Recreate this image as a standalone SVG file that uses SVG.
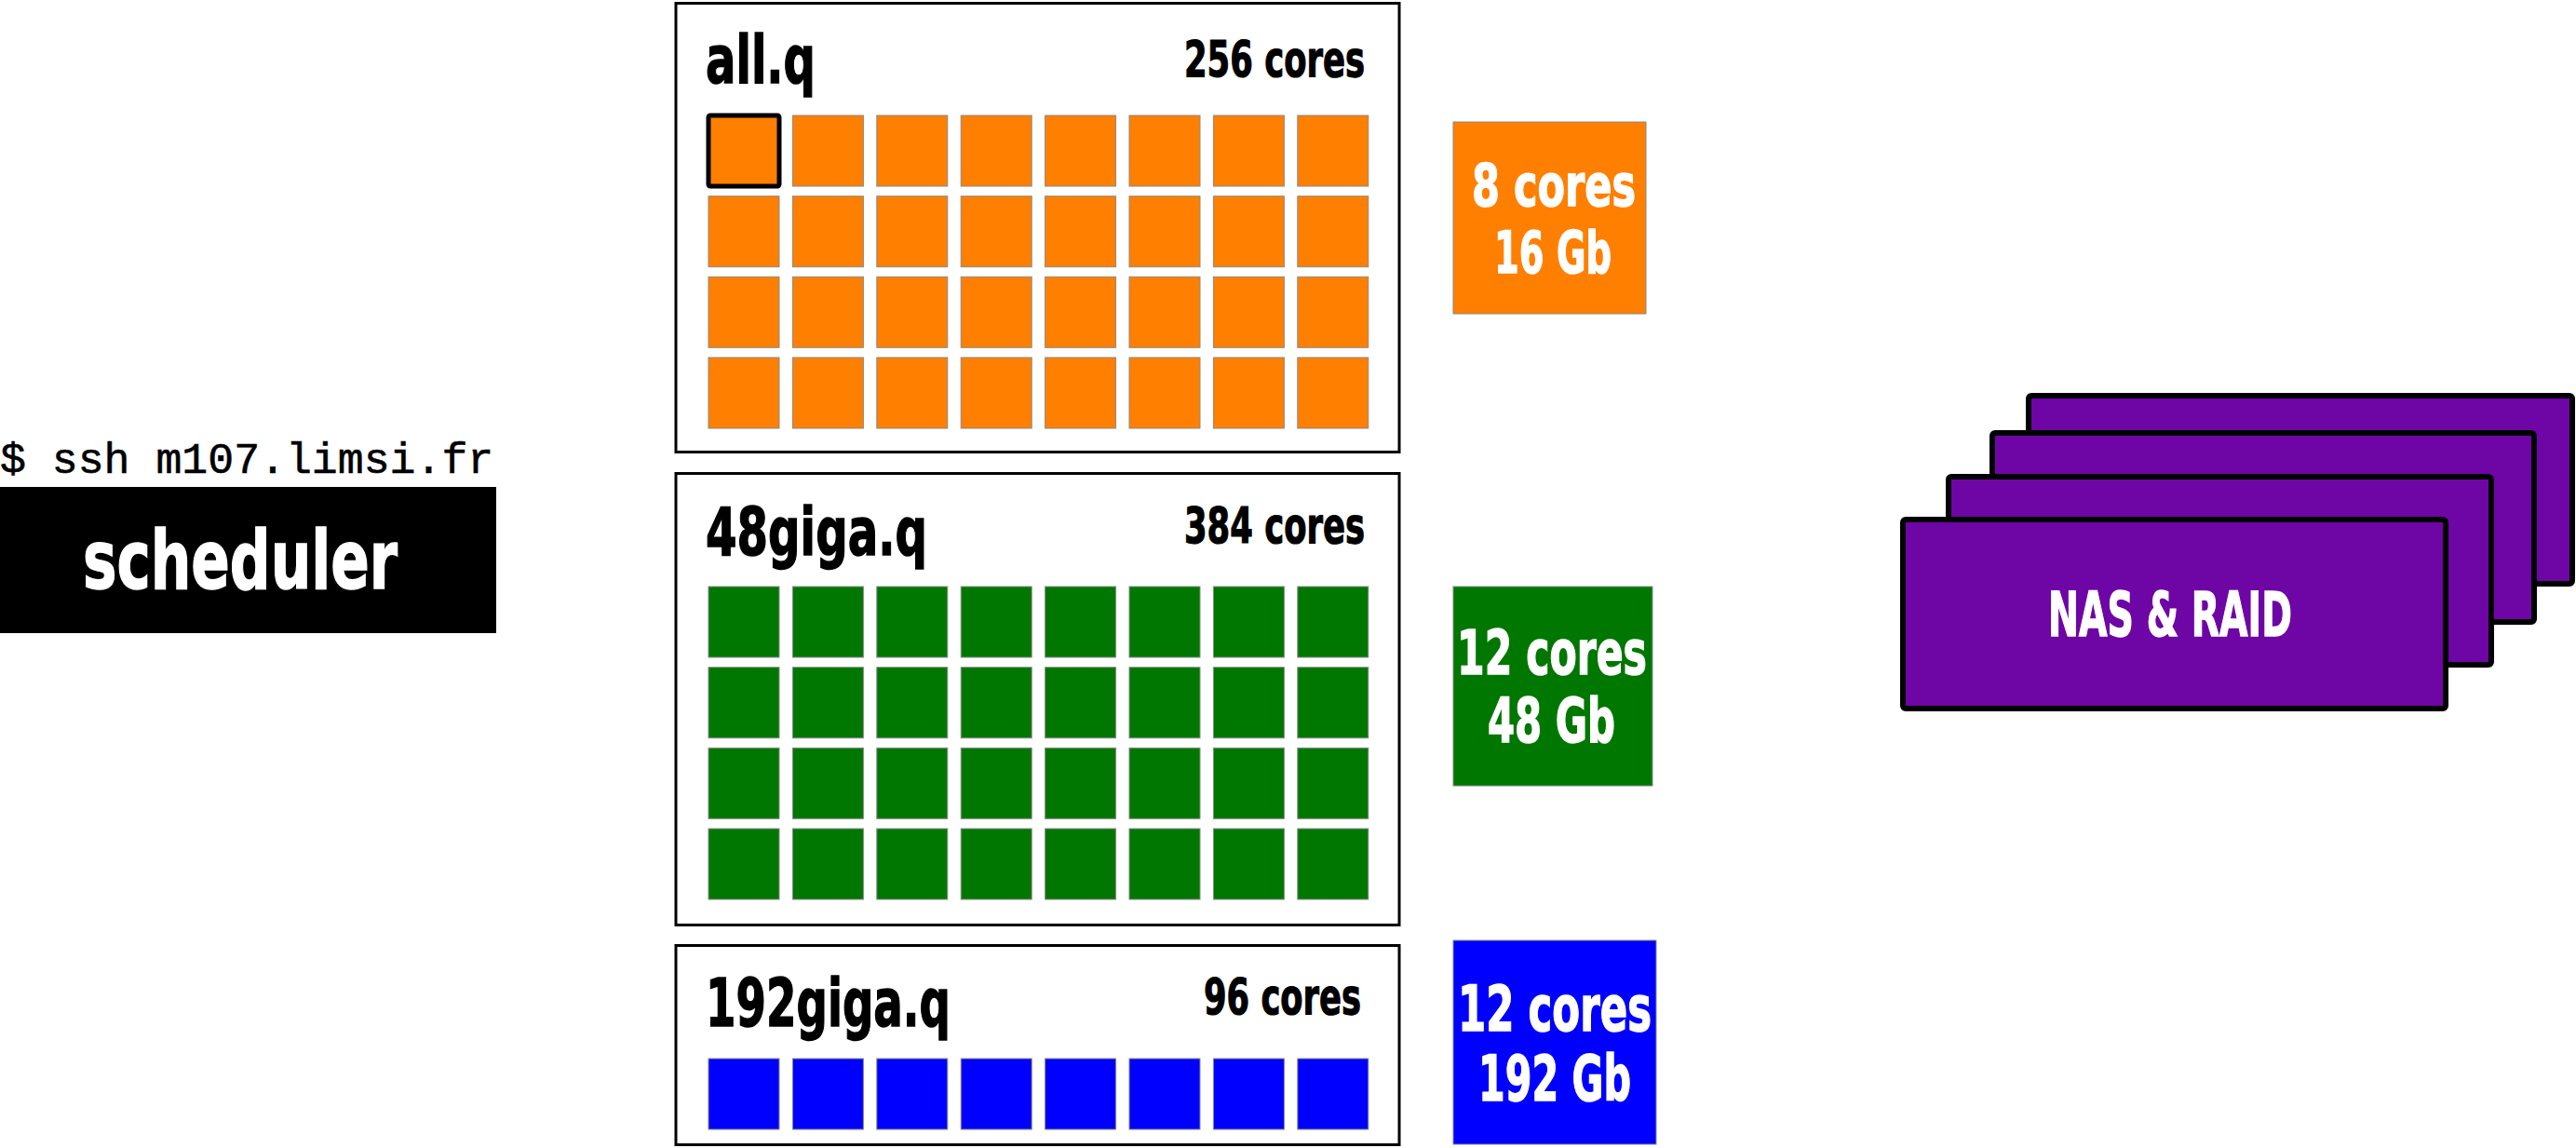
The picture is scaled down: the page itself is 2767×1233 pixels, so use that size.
<svg xmlns="http://www.w3.org/2000/svg" xmlns:xlink="http://www.w3.org/1999/xlink" width="2767" height="1233" viewBox="0 0 2767 1233">
<style>
.queue{fill:#ffffff;stroke:#000000;stroke-width:3}
.title{font-family:"DejaVu Sans","Liberation Sans",sans-serif;font-weight:bold;font-size:71px;fill:#000000;stroke:#000000;stroke-width:1.5}
.count{font-family:"DejaVu Sans","Liberation Sans",sans-serif;font-weight:bold;font-size:53px;fill:#000000;stroke:#000000;stroke-width:1.2}
.spec{font-family:"DejaVu Sans","Liberation Sans",sans-serif;font-weight:bold;fill:#ffffff;stroke:#ffffff;stroke-width:1.5}
.mono{font-family:"Liberation Mono","DejaVu Sans Mono",monospace;font-size:46.5px;fill:#000000;stroke:#000000;stroke-width:0.6}
.side{stroke:#888888;stroke-width:1}
.nas{fill:#6E05A5;stroke:#000000;stroke-width:6;stroke-linejoin:round}
</style>
<defs>
<g id="row8" stroke="#8a8a8a" stroke-width="1">
<rect x="761" y="0" width="76" height="76"/>
<rect x="851.4" y="0" width="76" height="76"/>
<rect x="941.8" y="0" width="76" height="76"/>
<rect x="1032.2" y="0" width="76" height="76"/>
<rect x="1122.6" y="0" width="76" height="76"/>
<rect x="1213" y="0" width="76" height="76"/>
<rect x="1303.4" y="0" width="76" height="76"/>
<rect x="1393.8" y="0" width="76" height="76"/>
</g>
</defs>
<rect width="2767" height="1233" fill="#ffffff"/>
<g id="connectors"></g>
<g id="scheduler">
<text class="mono" x="0" y="508">$ ssh m107.limsi.fr</text>
<rect x="0" y="523" width="533" height="157" fill="#000000"/>
<text class="spec" x="89" y="632" font-size="88" textLength="338" lengthAdjust="spacingAndGlyphs">scheduler</text>
</g>
<g id="all-q">
<rect class="queue" x="726" y="3.5" width="777" height="482"/>
<text class="title" x="758" y="89" textLength="118" lengthAdjust="spacingAndGlyphs">all.q</text>
<text class="count" x="1272" y="82" textLength="194" lengthAdjust="spacingAndGlyphs">256 cores</text>
<g fill="#FF7F00">
<use xlink:href="#row8" y="124"/>
<use xlink:href="#row8" y="210.7"/>
<use xlink:href="#row8" y="297.3"/>
<use xlink:href="#row8" y="384"/>
</g>
<rect x="761" y="124" width="76" height="76" rx="2" fill="none" stroke="#000000" stroke-width="5"/>
</g>
<g id="all-q-node">
<rect class="side" x="1561" y="131" width="207" height="206" fill="#FF7F00"/>
<text class="spec" x="1581" y="221" font-size="62" textLength="176" lengthAdjust="spacingAndGlyphs">8 cores</text>
<text class="spec" x="1605" y="293" font-size="62" textLength="126" lengthAdjust="spacingAndGlyphs">16 Gb</text>
</g>
<g id="q48giga">
<rect class="queue" x="726" y="508.5" width="777" height="485"/>
<text class="title" x="758" y="596" textLength="238" lengthAdjust="spacingAndGlyphs">48giga.q</text>
<text class="count" x="1272" y="583" textLength="194" lengthAdjust="spacingAndGlyphs">384 cores</text>
<g fill="#007700">
<use xlink:href="#row8" y="630"/>
<use xlink:href="#row8" y="716.7"/>
<use xlink:href="#row8" y="803.3"/>
<use xlink:href="#row8" y="890"/>
</g>
</g>
<g id="q48giga-node">
<rect class="side" x="1561" y="630" width="214" height="214" fill="#007700"/>
<text class="spec" x="1565" y="724" font-size="65" textLength="204" lengthAdjust="spacingAndGlyphs">12 cores</text>
<text class="spec" x="1598" y="797" font-size="65" textLength="137" lengthAdjust="spacingAndGlyphs">48 Gb</text>
</g>
<g id="q192giga">
<rect class="queue" x="726" y="1015.5" width="777" height="214"/>
<text class="title" x="758" y="1102" textLength="263" lengthAdjust="spacingAndGlyphs">192giga.q</text>
<text class="count" x="1293" y="1089" textLength="169" lengthAdjust="spacingAndGlyphs">96 cores</text>
<g fill="#0000FF">
<use xlink:href="#row8" y="1137"/>
</g>
</g>
<g id="q192giga-node">
<rect class="side" x="1561" y="1010" width="218" height="219" fill="#0000FF"/>
<text class="spec" x="1566" y="1107" font-size="67" textLength="208" lengthAdjust="spacingAndGlyphs">12 cores</text>
<text class="spec" x="1588" y="1182" font-size="67" textLength="164" lengthAdjust="spacingAndGlyphs">192 Gb</text>
</g>
<g id="nas-raid">
<rect class="nas" x="2179" y="425" width="584" height="202" rx="3"/>
<rect class="nas" x="2140" y="465" width="582" height="203" rx="3"/>
<rect class="nas" x="2093" y="512" width="583" height="202" rx="3"/>
<rect class="nas" x="2044" y="558" width="583" height="203" rx="3"/>
<text class="spec" x="2200" y="683" font-size="65" textLength="262" lengthAdjust="spacingAndGlyphs">NAS &amp; RAID</text>
</g>
</svg>
